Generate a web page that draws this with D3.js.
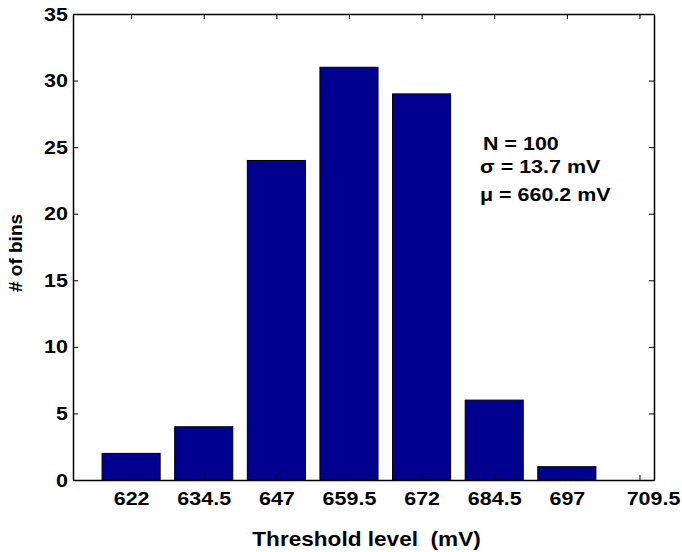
<!DOCTYPE html>
<html>
<head>
<meta charset="utf-8">
<script src="https://cdn.jsdelivr.net/npm/d3@7"></script>
<style>
  body { margin: 0; background: #fff; }
  text { font-family: "Liberation Sans", Arial, sans-serif; font-weight: bold; fill: #000; }
</style>
</head>
<body>
<div class="chart"></div>
<script>
var svgWidth = 682;
var svgHeight = 552;

// data
var binCenters = [622, 634.5, 647, 659.5, 672, 684.5, 697, 709.5];
var binCounts = [2, 4, 24, 31, 29, 6, 1, 0];
var yTicks = [0, 5, 10, 15, 20, 25, 30, 35];
var statsLines = ["N = 100", "\u03c3 = 13.7 mV", "\u03bc = 660.2 mV"];

var plot = { left: 73, right: 654, top: 14, bottom: 480 };
var stretch = 1.13; // original's lettering is a bit wider than Arial

var svg = d3.select(".chart")
  .append("svg")
  .attr("width", svgWidth)
  .attr("height", svgHeight);

var x = d3.scaleLinear().domain([612, 712]).range([plot.left, plot.right]);
var y = d3.scaleLinear().domain([0, 35]).range([plot.bottom, plot.top]);

var binWidth = 10; // 0.8 of the 12.5 spacing

// bars
svg.selectAll("rect.bar")
  .data(binCenters)
  .enter()
  .append("rect")
  .attr("class", "bar")
  .attr("x", (d) => x(d - binWidth / 2))
  .attr("width", (d) => x(d + binWidth / 2) - x(d - binWidth / 2))
  .attr("y", (d, i) => y(binCounts[i]))
  .attr("height", (d, i) => y(0) - y(binCounts[i]))
  .attr("fill", "#00008f")
  .attr("stroke", "#000")
  .attr("stroke-width", 1);

// axes, ticks pointing inward on all four sides
var bottomAxis = d3.axisBottom(x).tickValues(binCenters).tickFormat((d) => String(d))
  .tickSizeInner(-5).tickSizeOuter(0).tickPadding(12);
var topAxis = d3.axisTop(x).tickValues(binCenters).tickSizeInner(-5).tickSizeOuter(0).tickFormat("");
var leftAxis = d3.axisLeft(y).tickValues(yTicks).tickSizeInner(-5).tickSizeOuter(0).tickPadding(4.5);
var rightAxis = d3.axisRight(y).tickValues(yTicks).tickSizeInner(-5).tickSizeOuter(0).tickFormat("");

var gb = svg.append("g").attr("transform", `translate(0,${plot.bottom})`).call(bottomAxis);
var gt = svg.append("g").attr("transform", `translate(0,${plot.top})`).call(topAxis);
var gl = svg.append("g").attr("transform", `translate(${plot.left},0)`).call(leftAxis);
var gr = svg.append("g").attr("transform", `translate(${plot.right},0)`).call(rightAxis);

[gb, gt, gl, gr].forEach(function (g) {
  g.select(".domain").attr("stroke", "#000").attr("stroke-width", 1.5);
  g.selectAll(".tick line").attr("stroke", "#000").attr("stroke-width", 1);
  g.selectAll(".tick text")
    .style("font-size", "19px")
    .style("font-family", "Liberation Sans, Arial, sans-serif")
    .style("font-weight", "bold")
    .attr("transform", `scale(${stretch},1)`);
});
gb.selectAll(".tick text").attr("dy", "0.71em");
// last label sits a little right of its tick in the original
gb.selectAll(".tick text").filter((d) => d === 709.5).attr("dx", 12);

// axis titles
var cx = (plot.left + plot.right) / 2 + 3;
svg.append("text")
  .attr("transform", `translate(${cx},546) scale(${stretch},1)`)
  .attr("text-anchor", "middle")
  .style("font-size", "20px")
  .text("Threshold level\u00a0\u00a0(mV)");

svg.append("text")
  .attr("transform", "translate(22,253) rotate(-90)")
  .attr("text-anchor", "middle")
  .style("font-size", "19px")
  .text("# of bins");

// stats annotation
var statsX = [483, 480, 480];
var statsY = [150, 173, 201];
svg.selectAll("text.stats")
  .data(statsLines)
  .enter()
  .append("text")
  .attr("class", "stats")
  .attr("transform", (d, i) => `translate(${statsX[i]},${statsY[i]}) scale(${stretch},1)`)
  .style("font-size", "19px")
  .text((d) => d);
</script>
</body>
</html>
